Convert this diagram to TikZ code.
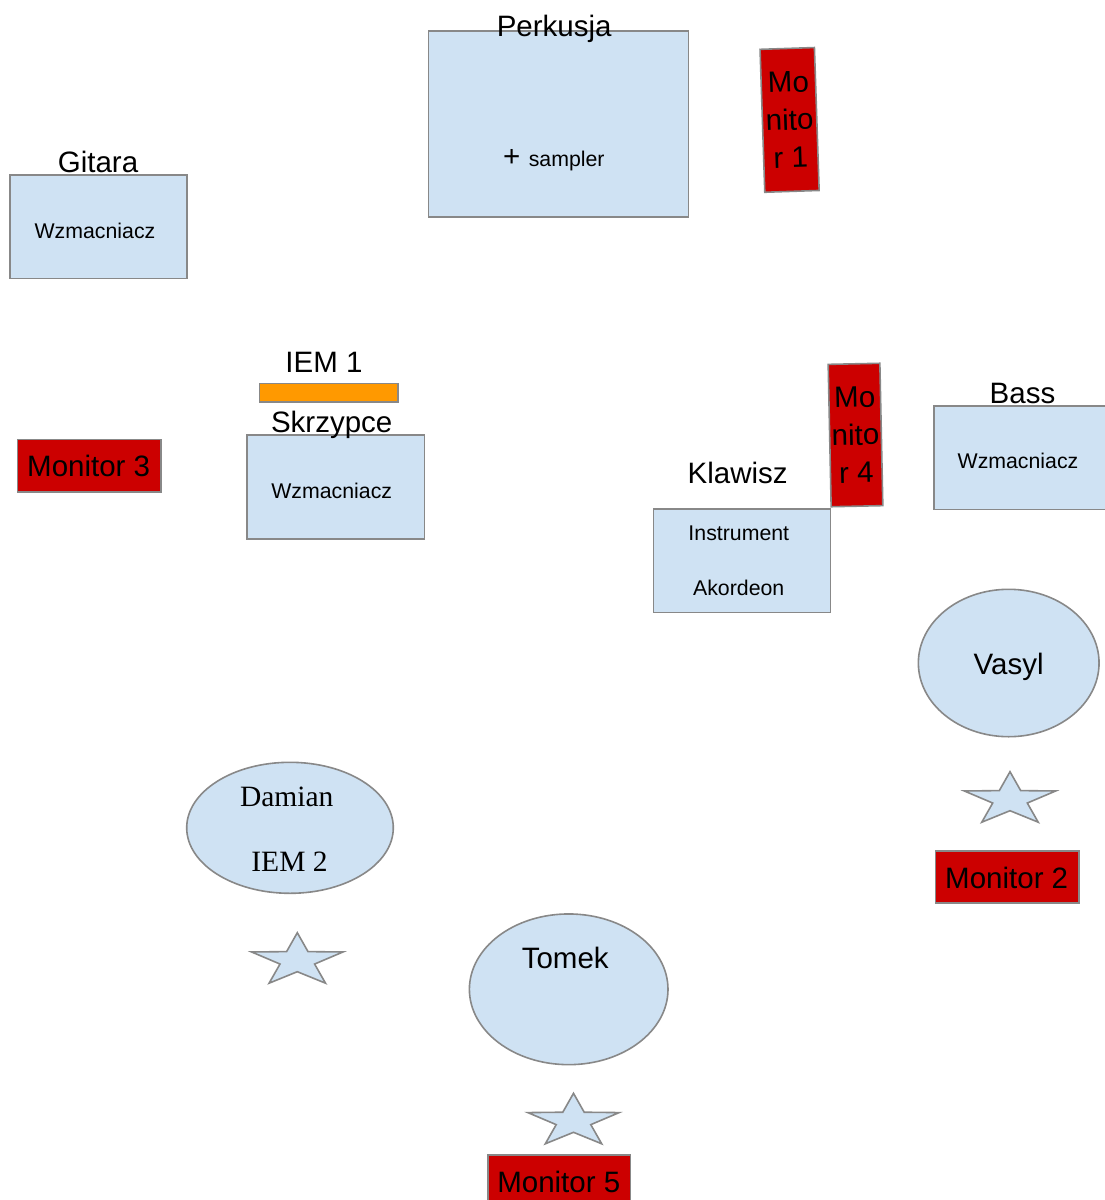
\documentclass[tikz,border=0pt]{standalone}
\usepackage{fontspec}
\setmainfont{Liberation Sans}
\newfontfamily\serifface{Liberation Serif}
\usetikzlibrary{shapes.geometric}
\definecolor{boxblue}{HTML}{CFE2F3}
\definecolor{boxline}{HTML}{888888}
\definecolor{monred}{HTML}{CC0000}
\definecolor{iemorange}{HTML}{FF9900}
\newcommand{\bigtxt}{\fontsize{29.5}{34}\selectfont}
\newcommand{\smalltxt}{\fontsize{21.3}{25}\selectfont}
\tikzset{
  x=1pt, y=-1pt,
  shapeline/.style={draw=boxline, line width=1.6pt},
  ampbox/.style={shapeline, fill=boxblue, rectangle, inner sep=0pt},
  monbox/.style={shapeline, fill=monred, rectangle, inner sep=0pt, font=\bigtxt},
  mongrid/.style={monbox, align=center, font=\fontsize{29.5}{37.8}\selectfont},
  person/.style={shapeline, fill=boxblue, ellipse, inner sep=0pt},
  bigtext/.style={anchor=base, inner sep=0pt, font=\bigtxt},
  smalltext/.style={anchor=base, inner sep=0pt, font=\smalltxt},
  seriftext/.style={anchor=base, inner sep=0pt, font=\serifface\bigtxt},
  stage star/.pic={
    \draw[shapeline, fill=boxblue, line join=miter]
      (0,-27.9) -- (10.7,-9) -- (45.65,-8.62) -- (17.3,3.43) -- (28.2,22.57)
      -- (0,11.1) -- (-28.2,22.57) -- (-17.3,3.43) -- (-45.65,-8.62)
      -- (-10.7,-9) -- cycle;
  }
}
\begin{document}
\begin{tikzpicture}
\useasboundingbox (0,0) rectangle (1105,1200);

% Perkusja
\node[ampbox, minimum width=260pt, minimum height=186pt] (perk) at (558.3,123.7) {};
\node[bigtext] (perklab) at (554.2,36.3) {Perkusja};
\node[anchor=base west, inner sep=0pt] (sampler) at (503,166) {{\bigtxt +}\hspace{8.4pt}{\smalltxt sampler}};

% Monitor 1
\node[mongrid, minimum width=54.4pt, minimum height=143pt, rotate=1.9] (mon1) at (789.6,119.9) {Mo\\nito\\r 1};

% Gitara
\node[ampbox, minimum width=177.3pt, minimum height=103.3pt] (git) at (98.6,226.7) {};
\node[bigtext] (gitlab) at (98,172.3) {Gitara};
\node[smalltext] (gitamp) at (95,238.3) {Wzmacniacz};

% IEM 1
\node[bigtext] (iem1lab) at (324,372.3) {IEM 1};
\node[shapeline, fill=iemorange, rectangle, inner sep=0pt, minimum width=138.4pt, minimum height=18.4pt] (iem1) at (328.5,392.5) {};

% Skrzypce
\node[ampbox, minimum width=177.3pt, minimum height=104pt] (skrz) at (335.7,487) {};
\node[bigtext] (skrzlab) at (331.7,432.8) {Skrzypce};
\node[smalltext] (skrzamp) at (331.7,498.6) {Wzmacniacz};

% Monitor 3
\node[monbox, minimum width=143.7pt, minimum height=52.4pt] (mon3) at (89.2,465.5) {};
\node[bigtext] (mon3lab) at (88.7,476.3) {Monitor 3};

% Monitor 4
\node[mongrid, minimum width=51.7pt, minimum height=142.4pt, rotate=1.2] (mon4) at (855.5,435) {Mo\\nito\\r 4};

% Klawisz
\node[ampbox, minimum width=177pt, minimum height=103.3pt] (klaw) at (741.8,560.7) {};
\node[bigtext] (klawlab) at (737.7,483.9) {Klawisz};
\node[smalltext] (instr) at (738.8,540.3) {Instrument};
\node[smalltext] (akord) at (738.7,595.3) {Akordeon};

% Bass
\node[ampbox, minimum width=177pt, minimum height=103.6pt] (bass) at (1022.2,457.5) {};
\node[bigtext] (basslab) at (1022.5,403.9) {Bass};
\node[smalltext] (bassamp) at (1018,468.6) {Wzmacniacz};

% Vasyl
\node[person, minimum width=180.7pt, minimum height=147.4pt] (vasyl) at (1008.7,663) {};
\node[bigtext] (vasyllab) at (1008.7,674) {Vasyl};
\pic (star2) at (1010,799.6) {stage star};
\node[monbox, minimum width=143.3pt, minimum height=52pt] (mon2) at (1007.3,876.7) {};
\node[bigtext] (mon2lab) at (1006.7,888.3) {Monitor 2};

% Damian
\node[person, minimum width=206.6pt, minimum height=131pt] (damian) at (290,827.8) {};
\node[seriftext] (damlab) at (286.7,806.5) {Damian};
\node[seriftext] (iem2lab) at (289.5,871.5) {IEM 2};
\pic (star1) at (297.3,960.6) {stage star};

% Tomek
\node[person, minimum width=198.6pt, minimum height=150.7pt] (tomek) at (568.7,989.3) {};
\node[bigtext] (tomlab) at (565.2,968.9) {Tomek};
\pic (star3) at (573.5,1121.2) {stage star};
\node[monbox, minimum width=142.6pt, minimum height=52pt] (mon5) at (559,1181) {};
\node[bigtext] (mon5lab) at (558.8,1192.9) {Monitor 5};
\end{tikzpicture}
\end{document}
